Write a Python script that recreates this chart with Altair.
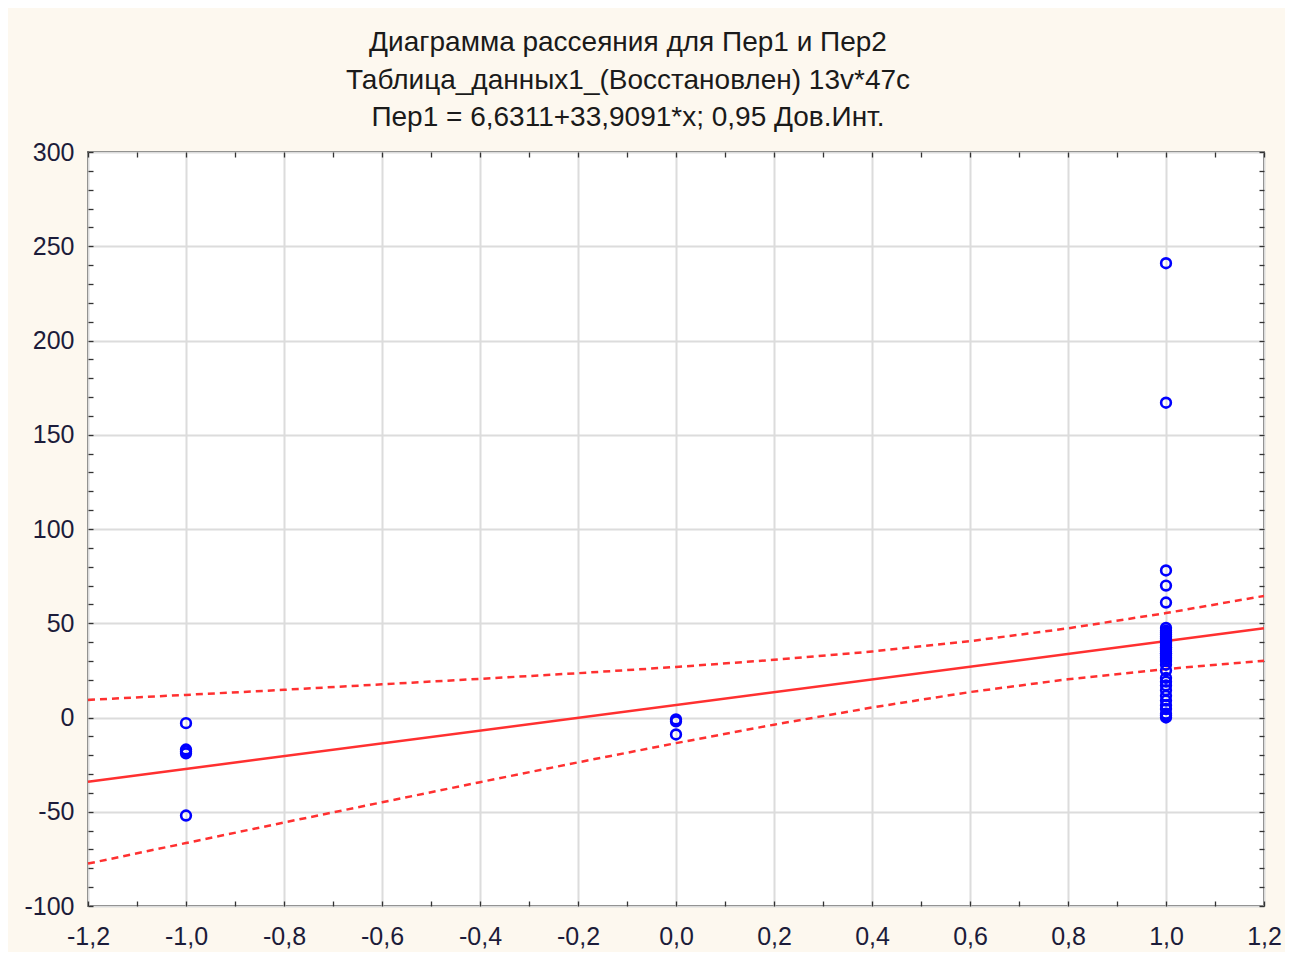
import altair as alt
import pandas as pd

# scatter data (Пер2 = x, Пер1 = y)
x_m1 = [-1, -1, -1, -1, -1]
y_m1 = [-3, -17, -18, -19, -52]
x_0 = [0, 0, 0]
y_0 = [-1, -2, -9]
y_p1 = [241, 167, 78, 70, 61, 47.5,
        46, 45, 44, 43, 42, 41, 40, 40, 39, 38, 37, 37, 36, 35, 34, 34, 33, 32, 31, 30,
        28, 25, 21, 19, 17, 14.5, 11.5, 9, 6.5, 4.5, 2, 1, 0]
x_p1 = [1] * len(y_p1)

# regression line
intercept = 6.6311
slope = 33.9091
line_x = [-1.2, 1.2]

# 0.95 confidence band
band_x = [-1.2, -1.0, -0.8, -0.6, -0.4, -0.2, 0.0, 0.2, 0.4, 0.6, 0.8, 1.0, 1.2]
band_upper = [9.3, 12.0, 14.7, 17.6, 20.5, 23.5, 26.8, 30.6, 35.0, 40.5, 47.3, 55.4, 64.5]
band_lower = [-77.5, -66.6, -55.7, -45.0, -34.3, -23.8, -13.6, -3.8, 5.3, 13.5, 20.3, 25.7, 30.1]

x_ticks = [-1.2, -1.0, -0.8, -0.6, -0.4, -0.2, 0.0, 0.2, 0.4, 0.6, 0.8, 1.0, 1.2]
y_ticks = [-100, -50, 0, 50, 100, 150, 200, 250, 300]
x_minor = [-1.2, -1.1, -1.0, -0.9, -0.8, -0.7, -0.6, -0.5, -0.4, -0.3, -0.2, -0.1, 0.0,
           0.1, 0.2, 0.3, 0.4, 0.5, 0.6, 0.7, 0.8, 0.9, 1.0, 1.1, 1.2]
y_minor = [-100, -90, -80, -70, -60, -50, -40, -30, -20, -10, 0, 10, 20, 30, 40, 50,
           60, 70, 80, 90, 100, 110, 120, 130, 140, 150, 160, 170, 180, 190, 200,
           210, 220, 230, 240, 250, 260, 270, 280, 290, 300]

pts = pd.DataFrame({"x": x_m1 + x_0 + x_p1, "y": y_m1 + y_0 + y_p1})
line = pd.DataFrame({"x": line_x, "y": [intercept + slope * v for v in line_x]})
band = pd.DataFrame({"x": band_x * 2, "y": band_upper + band_lower,
                     "side": ["upper"] * len(band_x) + ["lower"] * len(band_x)})

label_color = "#1c1c3a"
xs = alt.Scale(domain=[-1.2, 1.2], nice=False, zero=False)
ys = alt.Scale(domain=[-100, 300], nice=False, zero=False)
xax = alt.Axis(values=x_ticks, title=None, orient="bottom",
               labelExpr="replace(replace(format(datum.value, '.1f'), '.', ','), '\u2212', '-')",
               grid=True, gridColor="#dcdcdc", gridWidth=2, domain=False, ticks=False,
               labelFontSize=25, labelColor=label_color, labelFont="Liberation Sans",
               labelPadding=18, labelFlush=False)
yax = alt.Axis(values=y_ticks, title=None, orient="left",
               labelExpr="replace(format(datum.value, 'd'), '\u2212', '-')",
               grid=True, gridColor="#dcdcdc", gridWidth=2, domain=False, ticks=False,
               labelFontSize=25, labelColor=label_color, labelFont="Liberation Sans",
               labelPadding=14, labelFlush=False)

TL = 5


def minor_axis(vals, orient):
    return alt.Axis(values=vals, orient=orient, title=None, labels=False, domain=False,
                    grid=False, ticks=True, tickSize=TL, offset=-TL,
                    tickColor="#333333", tickWidth=1.3)


fit = alt.Chart(line).mark_line(color="#ff3030", strokeWidth=2.5).encode(
    x=alt.X("x:Q", scale=xs, axis=xax), y=alt.Y("y:Q", scale=ys, axis=yax))
ci = alt.Chart(band).mark_line(color="#ff3030", strokeWidth=2.5, strokeDash=[7, 5]).encode(
    x=alt.X("x:Q", scale=xs, axis=None), y=alt.Y("y:Q", scale=ys, axis=None), detail="side:N")
points = alt.Chart(pts).mark_point(shape="circle", filled=False, color="#0000ff", opacity=1,
                                   size=95, strokeWidth=2.6).encode(
    x=alt.X("x:Q", scale=xs, axis=None), y=alt.Y("y:Q", scale=ys, axis=None))
ticks_bl = alt.Chart(line).mark_point(opacity=0).encode(
    x=alt.X("x:Q", scale=xs, axis=minor_axis(x_minor, "bottom")),
    y=alt.Y("y:Q", scale=ys, axis=minor_axis(y_minor, "left")))
ticks_tr = alt.Chart(line).mark_point(opacity=0).encode(
    x=alt.X("x:Q", scale=xs, axis=minor_axis(x_minor, "top")),
    y=alt.Y("y:Q", scale=ys, axis=minor_axis(y_minor, "right")))

chart = alt.layer(fit, ci, points, ticks_bl, ticks_tr).resolve_axis(
    x="independent", y="independent"
).properties(
    width=1176, height=754,
    title=alt.Title(
        text=["Диаграмма рассеяния для Пер1 и Пер2",
              "Таблица_данных1_(Восстановлен) 13v*47c",
              "Пер1 = 6,6311+33,9091*x; 0,95 Дов.Инт."],
        font="Liberation Sans", fontSize=28, fontWeight="normal", color="#1a1a1a",
        lineHeight=37.5, anchor="middle", dx=-48, offset=8),
    autosize=alt.AutoSizeParams(type="none"),
    padding={"left": 80, "top": 144, "right": 21, "bottom": 46},
    background="#fdf8ef",
).configure_view(fill="white", stroke="#111111", strokeWidth=1.5)

chart.save("out.html", embed_options={"renderer": "svg", "actions": False})
